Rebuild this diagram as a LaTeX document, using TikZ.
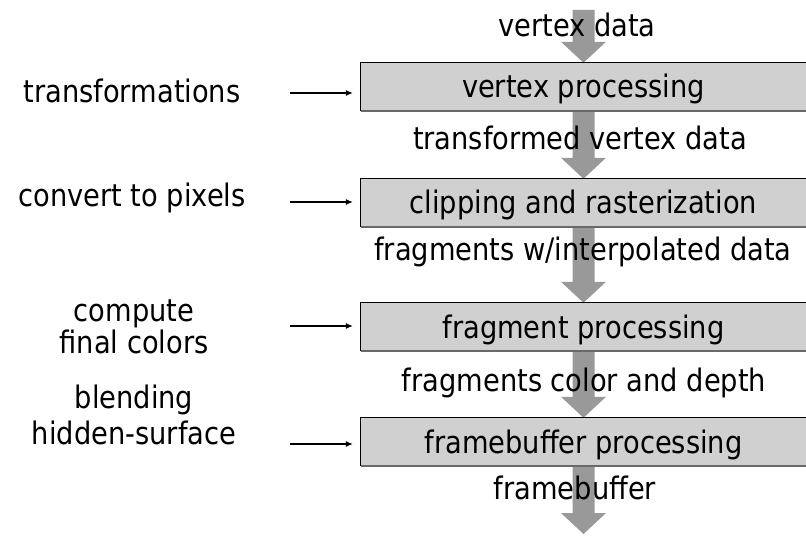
\documentclass[tikz,border=0pt]{standalone}
\usepackage{fontspec}
\setmainfont{DejaVu Sans}[FakeStretch=0.88]
\usetikzlibrary{arrows.meta,backgrounds,calc}

\definecolor{stagefill}{RGB}{208,208,208}
\definecolor{flowgray}{RGB}{153,153,153}
\definecolor{edgegray}{RGB}{105,105,105}

\tikzset{
  txt/.style={font=\fontsize{31pt}{30pt}\selectfont, inner sep=0pt, anchor=base},
  sidetxt/.style={txt, align=center},
  stage/.style={fill=stagefill, draw=none, minimum width=445pt, minimum height=48pt,
    inner sep=0pt, text height=26pt, text depth=4pt,
    font=\fontsize{31pt}{31pt}\selectfont},
  feed/.style={line width=1.1pt, -{Latex[length=7pt,width=6pt]}, shorten >=8pt},
}

% wide grey flow arrow running straight down from #1 to the tip at #2
\newcommand\flowdown[2]{%
  \fill[flowgray] ($(#1)+(-11pt,0)$) -- ($(#2)+(-11pt,21pt)$) -- ($(#2)+(-22.5pt,21pt)$)
    -- (#2) -- ($(#2)+(22.5pt,21pt)$) -- ($(#2)+(11pt,21pt)$) -- ($(#1)+(11pt,0)$) -- cycle;}

\begin{document}
\begin{tikzpicture}[x=1pt,y=-1pt]
\useasboundingbox (0,0) rectangle (806,537);

% pipeline stages
\node[stage] (vp) at (583.5,87)  {vertex processing};
\node[stage] (cr) at (583.5,203) {clipping and rasterization};
\node[stage] (fp) at (583.5,327) {fragment processing};
\node[stage] (fb) at (583.5,442) {framebuffer processing};

\foreach \n in {vp,cr,fp,fb}{
  \draw[edgegray, line width=1.8pt] (\n.south west) -- (\n.south east);
  \draw[line width=1.2pt] (\n.south west) -- (\n.north west) -- (\n.north east);
}

% data flowing between the stages
\coordinate (in)  at (583.5,10);
\coordinate (out) at (583.5,534);
\begin{scope}[on background layer]
  \flowdown{in}{vp.north}
  \flowdown{vp.south}{cr.north}
  \flowdown{cr.south}{fp.north}
  \flowdown{fp.south}{fb.north}
  \flowdown{fb.south}{out}
\end{scope}

\node[txt] (lvd) at (577,37)  {vertex data};
\node[txt] (ltv) at (580,150) {transformed vertex data};
\node[txt] (lfi) at (583,261) {fragments w/interpolated data};
\node[txt] (lfc) at (584,391) {fragments color and depth};
\node[txt] (lfb) at (575,499) {framebuffer};

% what each stage does (base anchor sits on the last line)
\node[sidetxt] (tf) at (132,103) {transformations};
\node[sidetxt] (cp) at (132,207) {convert to pixels};
\node[sidetxt] (cf) at (134,353) {compute\\final colors};
\node[sidetxt] (bh) at (134,444) {blending\\[5pt]hidden-surface};

\coordinate (s1) at (290,93);
\coordinate (s2) at (290,202);
\coordinate (s3) at (290,326);
\coordinate (s4) at (290,444);
\draw[feed] (s1) -- (vp.west |- s1);
\draw[feed] (s2) -- (cr.west |- s2);
\draw[feed] (s3) -- (fp.west |- s3);
\draw[feed] (s4) -- (fb.west |- s4);
\end{tikzpicture}
\end{document}
